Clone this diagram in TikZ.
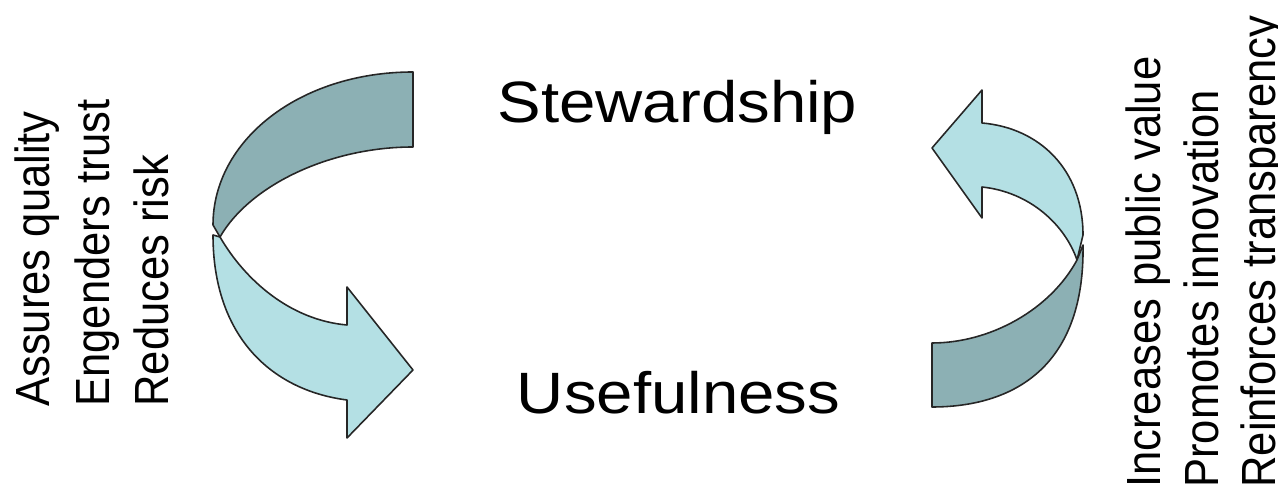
\documentclass[tikz,border=0pt]{standalone}
\usepackage{fontspec}
\setmainfont{Liberation Sans}
\definecolor{darkband}{RGB}{140,176,180}
\definecolor{lightband}{RGB}{180,224,228}
\tikzset{
  bandfront/.style={fill=lightband, draw=black!85, line width=0.9pt, line join=round},
  bandback/.style={fill=darkband, draw=black!85, line width=0.9pt, line join=round},
  bigword/.style={font=\fontsize{33.2}{40}\selectfont, inner sep=0pt, anchor=base, xscale=1.12, transform shape},
  sideword/.style={font=\fontsize{24.8}{30}\selectfont, inner sep=0pt, anchor=base west, xscale=1.1, rotate=90, transform shape}
}
\begin{document}
\begin{tikzpicture}[x=0.02cm, y=-0.02cm]
\useasboundingbox (0,0) rectangle (1278,492);
% left ribbon arrow
\draw[bandfront] (220,237) .. controls (245,280) and (290,320) .. (347,325) -- (347,287) -- (413,370) -- (347,438) -- (347,400) .. controls (270,390) and (213,335) .. (213,235) -- cycle;
\draw[bandback] (413,72) .. controls (300,72) and (213,140) .. (213,225) -- (220,237) .. controls (250,185) and (330,147) .. (413,147) -- cycle;
% right ribbon arrow
\draw[bandfront] (982,123) .. controls (1040,128) and (1083,170) .. (1083,235) -- (1077,260) .. controls (1065,225) and (1030,192) .. (982,187) -- (982,218) -- (932,148) -- (982,90) -- cycle;
\draw[bandback] (1083,245) .. controls (1085,370) and (1010,407) .. (932,407) -- (932,343) .. controls (990,343) and (1050,310) .. (1077,260) -- cycle;
% labels
\node[bigword] (stew) at (677.5,123) {Stewardship};
\node[bigword] (use) at (678.5,414) {Usefulness};
\node[sideword] (quality) at (50,407) {Assures quality};
\node[sideword] (trust) at (109,407) {Engenders trust};
\node[sideword] (risk) at (168,407) {Reduces risk};
\node[sideword] (value) at (1160,488) {Increases public value};
\node[sideword] (innov) at (1218,488) {Promotes innovation};
\node[sideword] (transp) at (1275,488) {Reinforces transparency};
\end{tikzpicture}
\end{document}
